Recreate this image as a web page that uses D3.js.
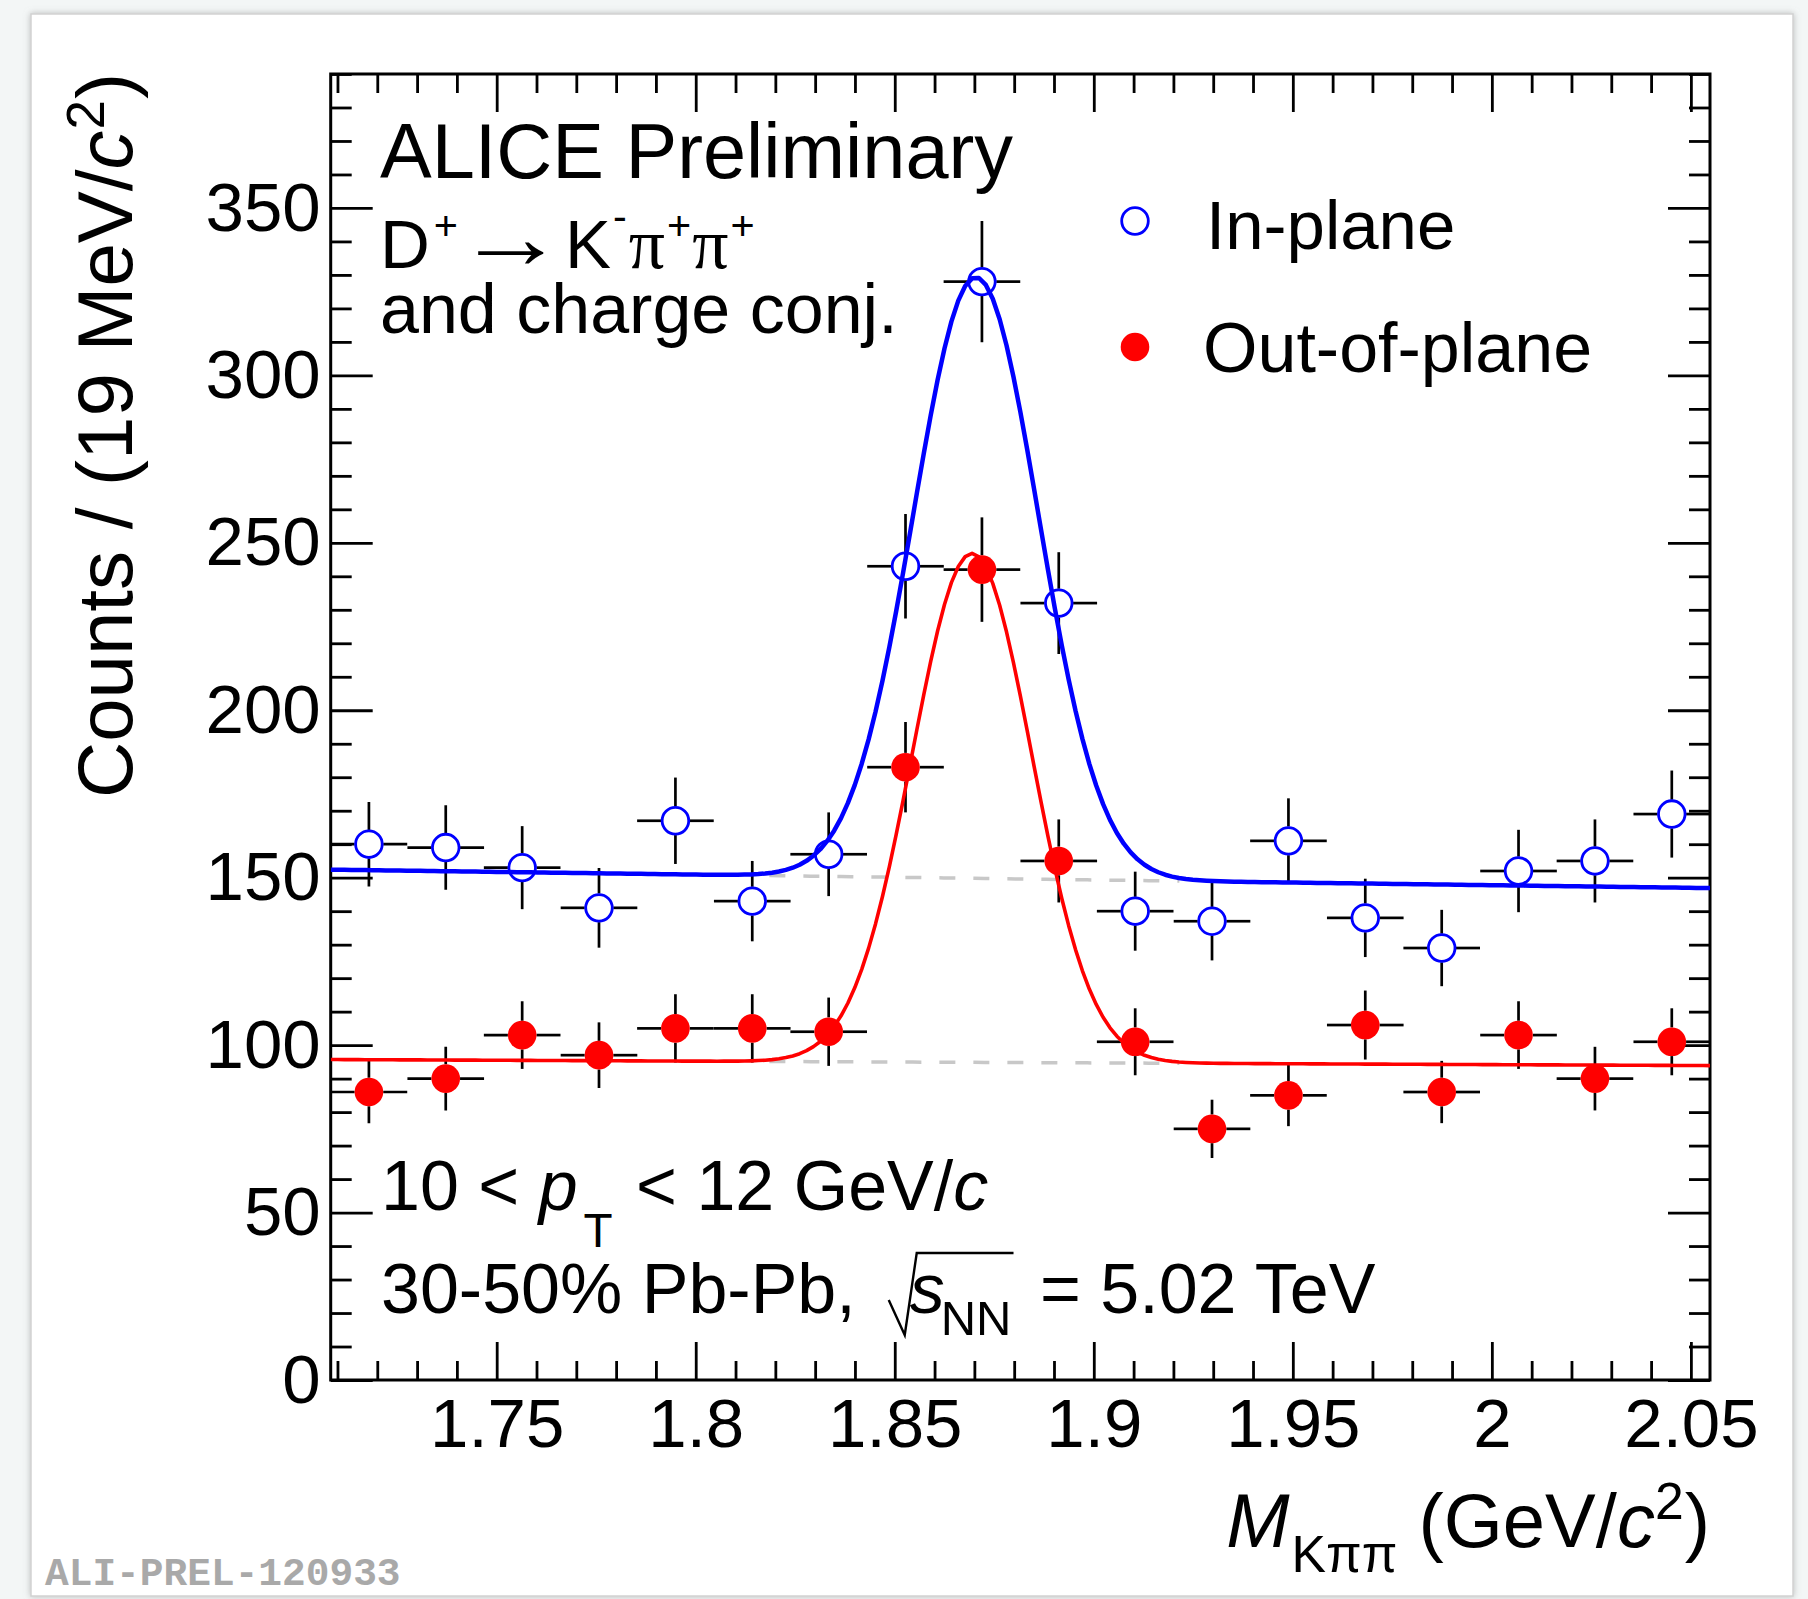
<!DOCTYPE html>
<html>
<head>
<meta charset="utf-8">
<script src="https://cdn.jsdelivr.net/npm/d3@7"></script>
<style>
  html, body { margin: 0; padding: 0; background: #f3f6f6; }
  svg { display: block; }
  text { white-space: pre; }
</style>
</head>
<body>
<svg id="chart" width="1808" height="1599"></svg>
<script>
// ---- Data: D+ -> K- pi+ pi+ invariant-mass spectra, 10 < pT < 12 GeV/c ----
// bin centres (GeV/c^2), 19 MeV wide bins
const massBins = [1.7179, 1.7372, 1.7564, 1.7757, 1.7949, 1.8142, 1.8334, 1.8527, 1.8719,
                  1.8912, 1.9104, 1.9297, 1.9489, 1.9682, 1.9874, 2.0067, 2.0259, 2.0452];
const binHalfWidth = 0.009625;

const inPlaneCounts  = [160, 159, 153, 141, 167, 143, 157, 243, 328, 232, 140, 137, 161, 138, 129, 152, 155, 169];
const inPlaneErrors  = [12.6, 12.6, 12.4, 11.9, 12.9, 12.0, 12.5, 15.6, 18.1, 15.2, 11.8, 11.7, 12.7, 11.7, 11.4, 12.3, 12.4, 13.0];
const outPlaneCounts = [86, 90, 103, 97, 105, 105, 104, 183, 242, 155, 101, 75, 85, 106, 86, 103, 90, 101];
const outPlaneErrors = [9.3, 9.5, 10.1, 9.8, 10.2, 10.2, 10.2, 13.5, 15.6, 12.4, 10.0, 8.7, 9.2, 10.3, 9.3, 10.1, 9.5, 10.0];

// Fit: exponential background + Gaussian signal
const inPlaneFit  = { bkgNorm: 152.4, bkgSlope: -0.106, amp: 179.5, mean: 1.8704, sigma: 0.0157 };
const outPlaneFit = { bkgNorm: 95.7,  bkgSlope: -0.055, amp: 152.0, mean: 1.8694, sigma: 0.0150 };
const bkgDrawRange = [1.8185, 1.9215];

// Axes
const massRange  = [1.7083, 2.0548];
const countRange = [0, 390];
const xMajorTicks = [1.75, 1.8, 1.85, 1.9, 1.95, 2.0, 2.05];
const xTickLabels = ["1.75", "1.8", "1.85", "1.9", "1.95", "2", "2.05"];
const yMajorTicks = [0, 50, 100, 150, 200, 250, 300, 350];
const yTickLabels = ["0", "50", "100", "150", "200", "250", "300", "350"];

// ---- Layout ----
const SANS  = "'Liberation Sans', Arial, Helvetica, sans-serif";
const SERIF = "'Liberation Serif', 'Times New Roman', serif";
const MONO  = "'Liberation Mono', 'Courier New', monospace";
const plot = { left: 330.7, right: 1710, top: 74, bottom: 1380 };
const BLUE = "#0000ff", RED = "#ff0000";

const svg = d3.select("#chart");

// page panel with a soft shadow
const defs = svg.append("defs");
const sh = defs.append("filter").attr("id", "panelShadow")
  .attr("x", "-5%").attr("y", "-5%").attr("width", "110%").attr("height", "110%");
sh.append("feDropShadow").attr("dx", 0).attr("dy", 0).attr("stdDeviation", 3)
  .attr("flood-color", "#8a8a8a").attr("flood-opacity", 0.55);
svg.append("rect").attr("x", 31).attr("y", 14).attr("width", 1762).attr("height", 1582)
  .attr("fill", "#ffffff").attr("stroke", "#d2d2d2").attr("stroke-width", 1.5)
  .attr("filter", "url(#panelShadow)");

defs.append("clipPath").attr("id", "plotClip").append("rect")
  .attr("x", plot.left).attr("y", plot.top)
  .attr("width", plot.right - plot.left).attr("height", plot.bottom - plot.top);

const x = d3.scaleLinear().domain(massRange).range([plot.left, plot.right]);
const y = d3.scaleLinear().domain(countRange).range([plot.bottom, plot.top]);

// ---- Axes (ticks on all four sides, pointing inward) ----
const xMinor = d3.range(171, 206).map(v => v / 100).filter(v => !xMajorTicks.some(m => Math.abs(m - v) < 1e-6));
const yMinor = d3.range(0, 391, 10).filter(v => v % 50 !== 0);
const labelFont = 69;

function styleAxis(g) {
  g.select(".domain").remove();
  g.selectAll(".tick line").attr("stroke", "#000").attr("stroke-width", 2.8);
  g.selectAll(".tick text").attr("font-family", SANS).attr("font-size", labelFont).attr("fill", "#000");
}

svg.append("g").attr("transform", `translate(0,${plot.bottom})`)
  .call(d3.axisBottom(x).tickValues(xMajorTicks).tickSize(-38).tickPadding(18)
    .tickFormat((d, i) => xTickLabels[i]))
  .call(styleAxis);
svg.append("g").attr("transform", `translate(0,${plot.bottom})`)
  .call(d3.axisBottom(x).tickValues(xMinor).tickSize(-19).tickFormat(""))
  .call(styleAxis);
svg.append("g").attr("transform", `translate(0,${plot.top})`)
  .call(d3.axisTop(x).tickValues(xMajorTicks).tickSize(-38).tickFormat(""))
  .call(styleAxis);
svg.append("g").attr("transform", `translate(0,${plot.top})`)
  .call(d3.axisTop(x).tickValues(xMinor).tickSize(-19).tickFormat(""))
  .call(styleAxis);

svg.append("g").attr("transform", `translate(${plot.left},0)`)
  .call(d3.axisLeft(y).tickValues(yMajorTicks).tickSize(-42).tickPadding(10)
    .tickFormat((d, i) => yTickLabels[i]))
  .call(styleAxis);
svg.append("g").attr("transform", `translate(${plot.left},0)`)
  .call(d3.axisLeft(y).tickValues(yMinor).tickSize(-21).tickFormat(""))
  .call(styleAxis);
svg.append("g").attr("transform", `translate(${plot.right},0)`)
  .call(d3.axisRight(y).tickValues(yMajorTicks).tickSize(-42).tickFormat(""))
  .call(styleAxis);
svg.append("g").attr("transform", `translate(${plot.right},0)`)
  .call(d3.axisRight(y).tickValues(yMinor).tickSize(-21).tickFormat(""))
  .call(styleAxis);

svg.append("rect").attr("x", plot.left).attr("y", plot.top)
  .attr("width", plot.right - plot.left).attr("height", plot.bottom - plot.top)
  .attr("fill", "none").attr("stroke", "#000").attr("stroke-width", 3);

// ---- Data points with error bars ----
const R = 13.3;
const pts = svg.append("g").attr("clip-path", "url(#plotClip)");

function drawSeries(counts, errors, color, filled) {
  const g = pts.append("g");
  const rows = massBins.map((m, i) => ({ m, v: counts[i], e: errors[i] }));
  const bars = g.append("g").attr("stroke", "#000").attr("stroke-width", 2.7);
  rows.forEach(d => {
    const cx = x(d.m), cy = y(d.v);
    const segs = [
      [x(d.m - binHalfWidth), cy, cx - R - 1, cy],
      [cx + R + 1, cy, x(d.m + binHalfWidth), cy],
      [cx, y(d.v + d.e), cx, cy - R - 1],
      [cx, cy + R + 1, cx, y(d.v - d.e)]
    ];
    segs.forEach(s => {
      if ((s[2] - s[0]) > 0.5 || (s[3] - s[1]) > 0.5) {
        bars.append("line").attr("x1", s[0]).attr("y1", s[1]).attr("x2", s[2]).attr("y2", s[3]);
      }
    });
  });
  g.selectAll("circle").data(rows).join("circle")
    .attr("cx", d => x(d.m)).attr("cy", d => y(d.v))
    .attr("r", filled ? R + 1 : R)
    .attr("fill", filled ? color : "none")
    .attr("stroke", filled ? "none" : color)
    .attr("stroke-width", filled ? 0 : 2.8);
}
drawSeries(inPlaneCounts, inPlaneErrors, BLUE, false);
drawSeries(outPlaneCounts, outPlaneErrors, RED, true);

// ---- Fit functions ----
const bkg = (p, m) => p.bkgNorm * Math.exp(p.bkgSlope * (m - massRange[0]));
const total = (p, m) => bkg(p, m) + p.amp * Math.exp(-0.5 * Math.pow((m - p.mean) / p.sigma, 2));
const curves = svg.append("g").attr("clip-path", "url(#plotClip)");
const line = d3.line().x(d => x(d[0])).y(d => y(d[1]));
const nSamp = 200;
const fullGrid = d3.range(nSamp + 1).map(i => massRange[0] + (massRange[1] - massRange[0]) * i / nSamp);
const bkgGrid = d3.range(41).map(i => bkgDrawRange[0] + (bkgDrawRange[1] - bkgDrawRange[0]) * i / 40);

[inPlaneFit, outPlaneFit].forEach(p => {
  curves.append("path").attr("d", line(bkgGrid.map(m => [m, bkg(p, m)])))
    .attr("fill", "none").attr("stroke", "#c8c8c8").attr("stroke-width", 3.5)
    .attr("stroke-dasharray", "16,18");
});
curves.append("path").attr("d", line(fullGrid.map(m => [m, total(inPlaneFit, m)])))
  .attr("fill", "none").attr("stroke", BLUE).attr("stroke-width", 4.5).attr("stroke-linejoin", "round");
curves.append("path").attr("d", line(fullGrid.map(m => [m, total(outPlaneFit, m)])))
  .attr("fill", "none").attr("stroke", RED).attr("stroke-width", 3.6).attr("stroke-linejoin", "round");

// ---- Rich text helper: one flowing <text>, tspans shifted relatively ----
// run.dy = baseline offset from the main baseline, run.dx = extra gap before, run.after = gap after
function rich(parent, runs, size) {
  const g = parent.append("g");
  const text = g.append("text").attr("x", 0).attr("y", 0)
    .attr("font-family", SANS).attr("font-size", size).attr("fill", "#000");
  let cx = 0, cur = 0, pending = 0;
  runs.forEach(r => {
    const off = r.dy || 0;
    const gap = (r.dx || 0) + pending;
    const ts = text.append("tspan")
      .attr("dx", gap).attr("dy", off - cur)
      .attr("font-family", r.serif ? SERIF : SANS)
      .attr("font-style", r.italic ? "italic" : "normal")
      .attr("font-size", size * (r.scale || 1))
      .text(r.t);
    cur = off;
    pending = r.after || 0;
    r.x0 = cx + gap;
    r.x1 = r.x0 + ts.node().getComputedTextLength();
    cx = r.x1;
  });
  return { g, width: cx + pending };
}

// Title block
svg.append("text").attr("x", 380).attr("y", 178)
  .attr("font-family", SANS).attr("font-size", 77.5).text("ALICE Preliminary");

// D+ -> K- pi+ pi+ : particle symbols plus a long thin reaction arrow
const dPlus = rich(svg, [
  { t: "D" },
  { t: "+", scale: 0.6, dy: -28, dx: 4 }
], 69);
dPlus.g.attr("transform", "translate(380,268)");
{
  const arrowSize = 90, inkLeft = 478, inkWidth = 66;
  const ctx = document.createElement("canvas").getContext("2d");
  ctx.font = `${arrowSize}px ${SANS}`;
  const m = ctx.measureText("\u2192");
  const w = (m.actualBoundingBoxLeft + m.actualBoundingBoxRight) || arrowSize * 0.33;
  const sx = inkWidth / w;
  svg.append("text")
    .attr("transform", `translate(${inkLeft + m.actualBoundingBoxLeft * sx},268) scale(${sx},1)`)
    .attr("font-family", SANS).attr("font-size", arrowSize).attr("fill", "#000")
    .text("\u2192");
}
const products = rich(svg, [
  { t: "K" },
  { t: "-", scale: 0.6, dy: -38, dx: 2 },
  { t: "\u03C0", serif: true, scale: 1.04, dx: 2 },
  { t: "+", scale: 0.6, dy: -28, dx: 2 },
  { t: "\u03C0", serif: true, scale: 1.04, dx: 1 },
  { t: "+", scale: 0.6, dy: -28, dx: 2 }
], 69);
products.g.attr("transform", "translate(565,268)");

svg.append("text").attr("x", 380).attr("y", 333)
  .attr("font-family", SANS).attr("font-size", 70).text("and charge conj.");

// Legend
const legend = svg.append("g");
legend.append("circle").attr("cx", 1135).attr("cy", 221).attr("r", R)
  .attr("fill", "none").attr("stroke", BLUE).attr("stroke-width", 2.8);
legend.append("circle").attr("cx", 1135).attr("cy", 347).attr("r", R + 1).attr("fill", RED);
legend.append("text").attr("x", 1206).attr("y", 249)
  .attr("font-family", SANS).attr("font-size", 69).text("In-plane");
legend.append("text").attr("x", 1203).attr("y", 372)
  .attr("font-family", SANS).attr("font-size", 70).text("Out-of-plane");

// Kinematic / system labels
const ptLine = rich(svg, [
  { t: "10 < " },
  { t: "p", italic: true, after: 6 },
  { t: "T", scale: 0.68, dy: 37, after: 4 },
  { t: "\u00A0< 12 GeV/" },
  { t: "c", italic: true }
], 70);
ptLine.g.attr("transform", "translate(381,1210)");

const sysRuns = [
  { t: "30-50% Pb-Pb,", after: 54 },
  { t: "s", italic: true, after: -4 },
  { t: "NN", scale: 0.7, dy: 22 },
  { t: "\u00A0= 5.02 TeV", dx: 9 }
];
const sys = rich(svg, sysRuns, 70);
sys.g.attr("transform", "translate(381,1313)");
{
  const s = sysRuns[1].x0, e = sysRuns[2].x1 + 2;
  sys.g.append("path")
    .attr("d", `M${s - 21},-13 L${s - 5},22 L${s + 7},-60 L${e},-60`)
    .attr("fill", "none").attr("stroke", "#000").attr("stroke-width", 2.4)
    .attr("stroke-linejoin", "miter");
}

// Axis titles
const yTitle = rich(svg, [
  { t: "Counts / (19 MeV/" },
  { t: "c", italic: true },
  { t: "2", scale: 0.68, dy: -28, dx: 1 },
  { t: ")", dx: 1 }
], 78);
yTitle.g.attr("transform", `translate(132,${73 + yTitle.width}) rotate(-90)`);

const xTitle = rich(svg, [
  { t: "M", italic: true, after: 2 },
  { t: "K\u03C0\u03C0", scale: 0.68, dy: 25 },
  { t: "\u00A0(GeV/" },
  { t: "c", italic: true },
  { t: "2", scale: 0.68, dy: -28 },
  { t: ")", dx: 1 }
], 76);
xTitle.g.attr("transform", `translate(${plot.right - xTitle.width},1547)`);

// Preliminary figure tag
svg.append("text").attr("x", 45).attr("y", 1585)
  .attr("font-family", MONO).attr("font-weight", "bold").attr("font-size", 39.5)
  .attr("fill", "#a9a9a9").text("ALI-PREL-120933");
</script>
</body>
</html>
